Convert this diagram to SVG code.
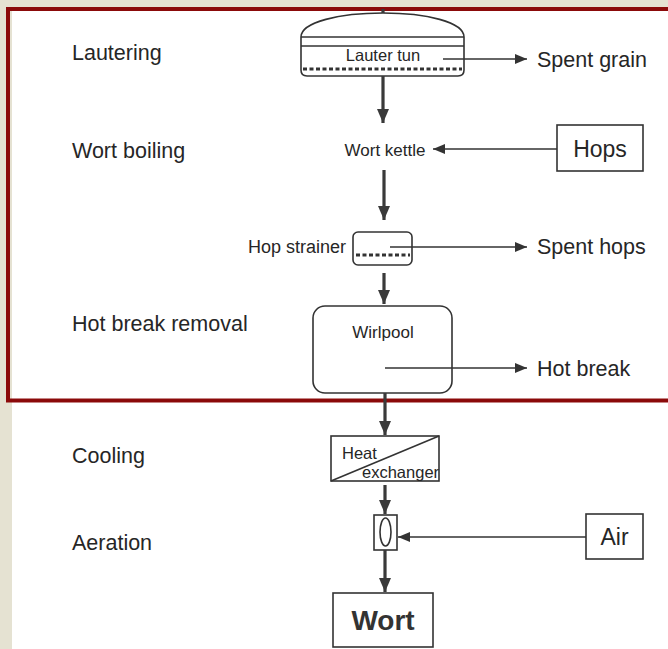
<svg xmlns="http://www.w3.org/2000/svg" width="668" height="649" viewBox="0 0 668 649">
<defs>
<style>
.lbl{font-family:"Liberation Sans",Arial,sans-serif;font-size:21.5px;fill:#262626}
.sm{font-family:"Liberation Sans",Arial,sans-serif;font-size:16.5px;fill:#262626}
.box{fill:none;stroke:#333;stroke-width:1.6}
.main{stroke:#3a3a3a;stroke-width:3.2;fill:none}
.side{stroke:#333;stroke-width:1.4;fill:none}
.dot{stroke:#333;stroke-width:3;stroke-dasharray:4 2.5;fill:none}
</style>
<marker id="hb" viewBox="0 0 14 12" refX="14" refY="6" markerWidth="14" markerHeight="12" markerUnits="userSpaceOnUse" orient="auto">
<path d="M0,0 L14,6 L0,12 Z" fill="#3a3a3a"/>
</marker>
<marker id="hs" viewBox="0 0 12 10" refX="12" refY="5" markerWidth="12" markerHeight="10" markerUnits="userSpaceOnUse" orient="auto">
<path d="M0,0 L12,5 L0,10 Z" fill="#333"/>
</marker>
</defs>
<rect x="0" y="0" width="668" height="649" fill="#e5e2d2"/>
<rect x="12" y="7" width="656" height="642" fill="#ffffff"/>
<rect x="8" y="9" width="672" height="391.5" fill="none" stroke="#8b0a0a" stroke-width="4"/>

<g id="stage-labels">
<text class="lbl" x="72" y="60">Lautering</text>
<text class="lbl" x="72" y="158">Wort boiling</text>
<text class="lbl" x="72" y="331">Hot break removal</text>
<text class="lbl" x="72" y="463">Cooling</text>
<text class="lbl" x="72" y="550">Aeration</text>
</g>

<g id="lauter-tun">
<path class="box" d="M301,37 C301,22 340,13 383,13 C426,13 464,22 464,37 L464,70 Q464,76 458,76 L307,76 Q301,76 301,70 Z"/>
<line class="box" x1="301" y1="37" x2="464" y2="37"/>
<line class="box" x1="301" y1="46" x2="464" y2="46"/>
<line class="dot" x1="303" y1="69" x2="462" y2="69"/>
<text class="sm" x="383" y="61" text-anchor="middle">Lauter tun</text>
</g>

<g id="spent-grain"><text class="lbl" x="537" y="67">Spent grain</text></g>

<g id="wort-kettle"><text class="sm" x="385" y="156" text-anchor="middle" style="font-size:17px">Wort kettle</text></g>

<g id="hops">
<rect class="box" x="557" y="125" width="86" height="46"/>
<text class="lbl" x="600" y="157" text-anchor="middle" style="font-size:23px">Hops</text>
</g>

<g id="hop-strainer">
<text class="sm" x="346" y="253" text-anchor="end" style="font-size:18px">Hop strainer</text>
<rect class="box" x="353" y="232" width="59" height="33" rx="5"/>
<line class="dot" x1="356" y1="255" x2="410" y2="255"/>
</g>

<g id="spent-hops"><text class="lbl" x="537" y="254">Spent hops</text></g>

<g id="wirlpool">
<rect class="box" x="313" y="306" width="139" height="87" rx="12"/>
<text class="sm" x="383" y="338" text-anchor="middle" style="font-size:17px">Wirlpool</text>
</g>

<g id="hot-break"><text class="lbl" x="537" y="376">Hot break</text></g>

<g id="heat-exchanger">
<rect class="box" x="331" y="436" width="108" height="45"/>
<line class="box" x1="331" y1="481" x2="439" y2="436"/>
<text class="sm" x="342" y="459">Heat</text>
<text class="sm" x="362" y="478">exchanger</text>
</g>

<g id="aerator">
<rect class="box" x="374" y="515" width="23" height="35"/>
<ellipse class="box" cx="385.5" cy="532" rx="5.5" ry="14"/>
</g>

<g id="air">
<rect class="box" x="586" y="514" width="57" height="45"/>
<text class="lbl" x="614.5" y="545" text-anchor="middle" style="font-size:23px">Air</text>
</g>

<g id="wort">
<rect class="box" x="333" y="593" width="100" height="54"/>
<text x="383" y="630" text-anchor="middle" style="font-family:'Liberation Sans',Arial,sans-serif;font-size:28px;font-weight:bold;fill:#333">Wort</text>
</g>

<g id="connectors">
<line class="main" x1="383" y1="9" x2="383" y2="13"/>
<line class="main" x1="383" y1="76" x2="383" y2="123" marker-end="url(#hb)"/>
<line class="side" x1="443" y1="59" x2="527" y2="59" marker-end="url(#hs)"/>
<line class="side" x1="557" y1="149" x2="433" y2="149" marker-end="url(#hs)"/>
<line class="main" x1="384" y1="170" x2="384" y2="220" marker-end="url(#hb)"/>
<line class="side" x1="390" y1="247" x2="527" y2="247" marker-end="url(#hs)"/>
<line class="main" x1="384" y1="273" x2="384" y2="304" marker-end="url(#hb)"/>
<line class="side" x1="385" y1="368" x2="527" y2="368" marker-end="url(#hs)"/>
<line class="main" x1="385" y1="393" x2="385" y2="435" marker-end="url(#hb)"/>
<line class="main" x1="385" y1="485" x2="385" y2="514" marker-end="url(#hb)"/>
<line class="side" x1="586" y1="537" x2="398" y2="537" marker-end="url(#hs)"/>
<line class="main" x1="385" y1="550" x2="385" y2="592" marker-end="url(#hb)"/>
</g>
</svg>
